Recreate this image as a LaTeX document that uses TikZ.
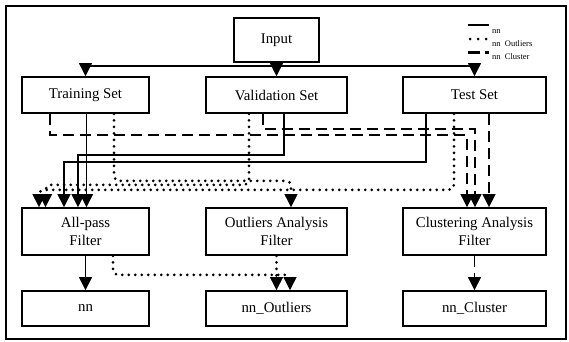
\documentclass[tikz,border=0pt]{standalone}
\usepackage{fontspec}
\setmainfont{Liberation Serif}
\usetikzlibrary{arrows.meta}

\begin{document}
\begin{tikzpicture}[x=1pt, y=-1pt,
    box/.style={draw, line width=1.7pt, inner sep=0pt, align=center, font=\fontsize{14.8}{18.5}\selectfont},
    setbox/.style={box, minimum height=36pt},
    filterbox/.style={box, minimum height=47pt},
    resultbox/.style={box, minimum height=35pt},
    legend/.style={inner sep=0pt, anchor=west, font=\fontsize{8.5}{10}\selectfont},
    tip/.style={-{Triangle[length=13pt, width=13pt, line width=0.6pt]}},
    nnline/.style={tip, line width=1.5pt},
    outlline/.style={tip, line width=3pt, line cap=round, dash pattern=on 0pt off 6.5pt, rounded corners=5pt},
    clusline/.style={tip, line width=1.7pt, dash pattern=on 11pt off 6pt}]
    \useasboundingbox (0,0) rectangle (569,341);
    \draw[line width=1.6pt] (6,6) rectangle (566,339);

    % boxes
    \node[box, minimum width=85pt, minimum height=44pt] (input) at (276.5, 40) {Input};
    \node[setbox, minimum width=127pt] (train) at (85.5, 95) {Training Set};
    \node[setbox, minimum width=141pt] (valid) at (276.5, 95) {Validation Set};
    \node[setbox, minimum width=143pt] (test) at (474.5, 95) {Test Set};
    \node[filterbox, minimum width=127pt] (allpass) at (85.5, 231.5) {All-pass\\Filter};
    \node[filterbox, minimum width=141pt] (outl) at (276.5, 231.5) {Outliers Analysis\\Filter};
    \node[filterbox, minimum width=143pt] (clust) at (474.5, 231.5) {Clustering Analysis\\Filter};
    \node[resultbox, minimum width=127pt] (nn) at (85.5, 308.5) {nn};
    \node[resultbox, minimum width=141pt] (nnout) at (276.5, 308.5) {nn\_Outliers};
    \node[resultbox, minimum width=143pt] (nnclu) at (474.5, 308.5) {nn\_Cluster};

    % legend
    \draw[line width=1.8pt] (468,25) -- (489,25);
    \draw[line width=3pt, line cap=round, dash pattern=on 0pt off 8pt] (470,39) -- (486,39);
    \draw[line width=3pt, dash pattern=on 12pt off 5pt on 4pt off 10pt] (468,52) -- (489,52);
    \node[legend] (lgnn) at (492,31) {nn};
    \node[legend] (lgout) at (492,44) {nn\ \ Outliers};
    \node[legend] (lgclu) at (492,57) {nn\ \ Cluster};

    % input split
    \draw[nnline] (input) -- (valid);
    \draw[nnline] (input.south) -- ++(0,3) -| (train.north);
    \draw[nnline] (input.south) -- ++(0,3) -| (test.north);

    % nn lines
    \draw[nnline] ([xshift=1pt]train.south) -- ([xshift=1pt]allpass.north);
    \draw[nnline] ([xshift=7.5pt]valid.south) -- ++(0,41) -| ([xshift=-7.5pt]allpass.north);
    \draw[nnline] ([xshift=-48.5pt]test.south) -- ++(0,48) -| ([xshift=-21.5pt]allpass.north);

    % outlier lines
    \draw[outlline] ([xshift=28.5pt]train.south) -- ++(0,67) -| ([xshift=14.5pt]outl.north);
    \draw[outlline] ([xshift=-27.5pt]valid.south) -- ++(0,71) -| ([xshift=-40pt]allpass.north);
    \draw[outlline] ([xshift=-20.5pt]test.south) -- ++(0,76) -| ([xshift=-46.5pt]allpass.north);

    % cluster lines
    \draw[clusline] ([xshift=-35.5pt]train.south) -- ++(0,21) -| ([xshift=-7.5pt]clust.north);
    \draw[clusline] ([xshift=-13.5pt]valid.south) -- ++(0,15) -| ([xshift=0.5pt]clust.north);
    \draw[clusline] ([xshift=14.5pt]test.south) -- ([xshift=14.5pt]clust.north);

    % results
    \draw[nnline] (allpass) -- (nn);
    \draw[outlline] (outl) -- (nnout);
    \draw[outlline] ([xshift=27.5pt]allpass.south) -- ++(0,19) -| ([xshift=13.5pt]nnout.north);
    \draw[clusline] (clust) -- (nnclu);
\end{tikzpicture}
\end{document}
